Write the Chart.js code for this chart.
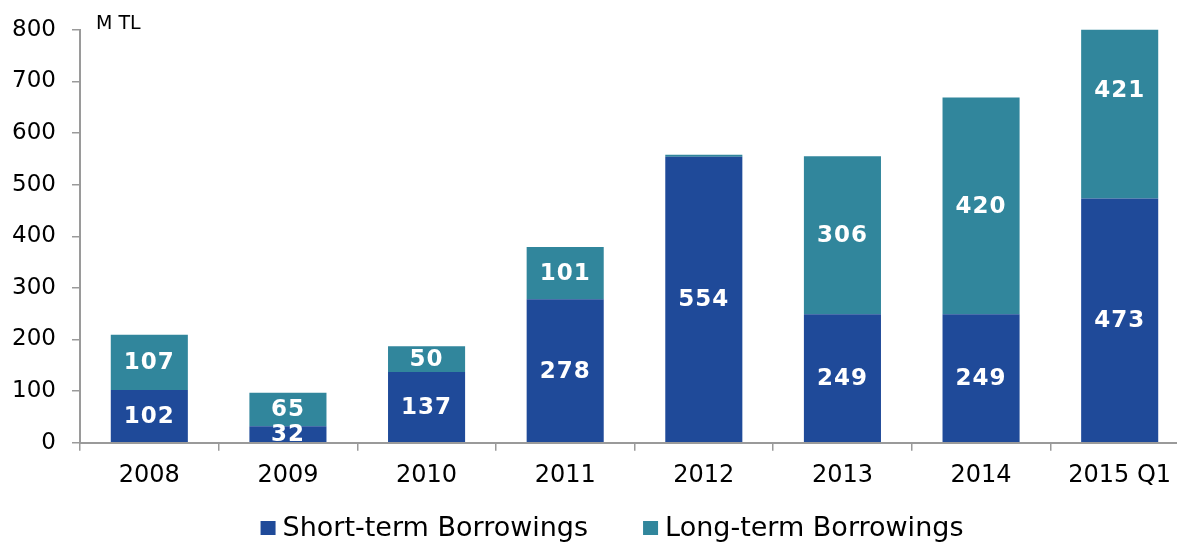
<!DOCTYPE html>
<html>
<head>
<meta charset="utf-8">
<script src="https://cdn.jsdelivr.net/npm/chart.js@4.4.1/dist/chart.umd.min.js"></script>
<style>
  html, body { margin: 0; padding: 0; background: #fff; overflow: hidden; }
  #wrap { width: 1190px; height: 543px; position: relative; }
</style>
</head>
<body>
<div id="wrap"><canvas id="borrowChart"></canvas></div>
<script>
  // Values (M TL)
  var CATEGORIES = ['2008', '2009', '2010', '2011', '2012', '2013', '2014', '2015 Q1'];
  var SHORT_TERM = [102, 32, 137, 278, 554, 249, 249, 473];
  var LONG_TERM = [107, 65, 50, 101, 4, 306, 420, 421];
  var Y_MIN = 0;
  var Y_MAX = 800;
  var Y_STEP = 100;
  var UNIT_LABEL = 'M TL';
  var SERIES_NAMES = ['Short-term Borrowings', 'Long-term Borrowings'];

  var DARK_BLUE = '#1f4a99';
  var TEAL = '#31869c';
  var AXIS_GREY = '#9a9a9a';
  var FONT = "'DejaVu Sans', Verdana, sans-serif";

  // white numbers in the middle of each segment; tiny ones are skipped
  var valueLabels = {
    id: 'valueLabels',
    afterDatasetsDraw: function (chart) {
      var ctx = chart.ctx;
      var area = chart.chartArea;
      ctx.save();
      ctx.beginPath();
      ctx.rect(area.left, area.top, area.right - area.left, area.bottom - area.top);
      ctx.clip();
      ctx.fillStyle = '#ffffff';
      ctx.font = 'bold 23px ' + FONT;
      ctx.letterSpacing = '1px';
      ctx.textAlign = 'center';
      ctx.textBaseline = 'middle';
      chart.data.datasets.forEach(function (ds, i) {
        var meta = chart.getDatasetMeta(i);
        meta.data.forEach(function (bar, j) {
          var v = ds.data[j];
          if (v < 20) return;
          var p = bar.getProps(['x', 'y', 'base'], true);
          ctx.fillText(String(v), p.x, (p.y + p.base) / 2 + 1);
        });
      });
      ctx.restore();
    }
  };

  // "M TL" unit note + the legend row at the bottom
  var extras = {
    id: 'extras',
    afterDraw: function (chart) {
      var ctx = chart.ctx;
      ctx.save();
      ctx.fillStyle = '#000';
      ctx.font = '19px ' + FONT;
      ctx.textAlign = 'left';
      ctx.textBaseline = 'alphabetic';
      ctx.fillText(UNIT_LABEL, chart.chartArea.left + 16, 29);

      var boxW = 15, boxH = 14, gap = 7, spacing = 55, cy = 528, centerX = 612;
      ctx.font = '27px ' + FONT;
      var items = chart.data.datasets.map(function (ds) {
        return { text: ds.label, color: ds.backgroundColor, w: boxW + gap + ctx.measureText(ds.label).width };
      });
      var total = items.reduce(function (s, it) { return s + it.w; }, 0) + spacing * (items.length - 1);
      var x = centerX - total / 2;
      ctx.textBaseline = 'middle';
      items.forEach(function (it) {
        ctx.fillStyle = it.color;
        ctx.fillRect(x, cy - boxH / 2, boxW, boxH);
        ctx.fillStyle = '#000';
        ctx.fillText(it.text, x + boxW + gap, cy + 1);
        x += it.w + spacing;
      });
      ctx.restore();
    }
  };

  new Chart(document.getElementById('borrowChart').getContext('2d'), {
    type: 'bar',
    data: {
      labels: CATEGORIES,
      datasets: [
        { label: SERIES_NAMES[0], data: SHORT_TERM, backgroundColor: DARK_BLUE },
        { label: SERIES_NAMES[1], data: LONG_TERM, backgroundColor: TEAL }
      ]
    },
    options: {
      responsive: true,
      maintainAspectRatio: false,
      animation: false,
      barPercentage: 0.556,
      categoryPercentage: 1,
      layout: { padding: { left: 0, right: 1, top: 29, bottom: 41.5 } },
      plugins: {
        tooltip: { enabled: false },
        legend: { display: false }
      },
      scales: {
        x: {
          stacked: true,
          border: { color: AXIS_GREY, width: 2 },
          grid: { offset: true, drawOnChartArea: false, drawTicks: true, tickLength: 8, color: AXIS_GREY, lineWidth: 1.5 },
          ticks: { color: '#000', font: { family: FONT, size: 24 }, padding: 11, maxRotation: 0 }
        },
        y: {
          stacked: true,
          min: Y_MIN,
          max: Y_MAX,
          afterFit: function (scale) { scale.width = 80; },
          border: { color: AXIS_GREY, width: 2 },
          grid: { drawOnChartArea: false, drawTicks: true, tickLength: 8, color: AXIS_GREY, lineWidth: 1.5 },
          ticks: { stepSize: Y_STEP, color: '#000', font: { family: FONT, size: 23 }, padding: 16 }
        }
      }
    },
    plugins: [valueLabels, extras]
  });
</script>
</body>
</html>
